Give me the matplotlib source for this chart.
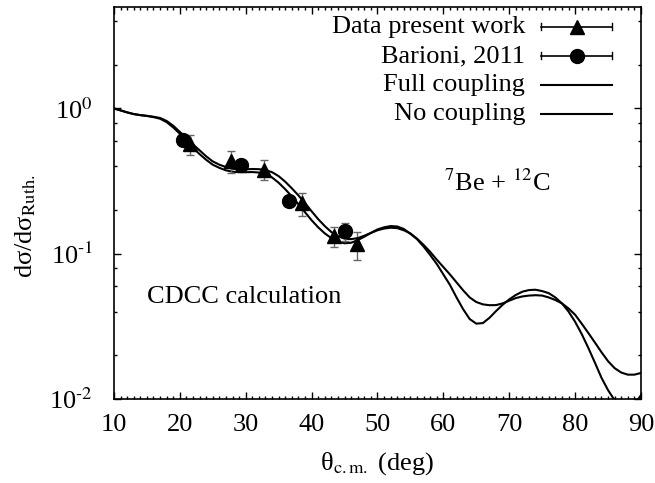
import numpy as np
import matplotlib
matplotlib.use("Agg")
import matplotlib.pyplot as plt
from matplotlib.ticker import FixedLocator, FixedFormatter, MultipleLocator

plt.rcParams['font.family'] = ['Liberation Serif', 'DejaVu Serif']
plt.rcParams['mathtext.fontset'] = 'stix'
plt.rcParams['font.size'] = 19

# CDCC curves, 1 deg steps from 10 to 90
theta = np.arange(10, 91)
full_coupling = [1.00, 0.97, 0.94, 0.915, 0.90, 0.888, 0.872, 0.85, 0.805, 0.74,
                 0.67, 0.60, 0.535, 0.485, 0.443, 0.41, 0.39, 0.375, 0.367, 0.364,
                 0.364, 0.365, 0.362, 0.353, 0.335, 0.308, 0.278, 0.248, 0.219, 0.193,
                 0.17, 0.152, 0.138, 0.128, 0.121, 0.118, 0.119, 0.124, 0.131, 0.139,
                 0.147, 0.152, 0.155, 0.154, 0.148, 0.137, 0.126, 0.112, 0.098, 0.085,
                 0.072, 0.061, 0.050, 0.0415, 0.0355, 0.033, 0.0333, 0.0362, 0.0403, 0.0445,
                 0.0485, 0.052, 0.0548, 0.0562, 0.0565, 0.0553, 0.0535, 0.050, 0.0455, 0.040,
                 0.034, 0.028, 0.0225, 0.0178, 0.014, 0.0115, 0.0098, 0.0088, 0.0085, 0.0092,
                 0.0106]
no_coupling = [1.00, 0.97, 0.94, 0.915, 0.90, 0.89, 0.877, 0.86, 0.82, 0.76,
               0.69, 0.625, 0.565, 0.515, 0.468, 0.432, 0.41, 0.395, 0.385, 0.381,
               0.381, 0.383, 0.382, 0.377, 0.364, 0.342, 0.313, 0.282, 0.252, 0.223,
               0.196, 0.173, 0.155, 0.141, 0.132, 0.127, 0.126, 0.128, 0.133, 0.139,
               0.145, 0.149, 0.151, 0.150, 0.145, 0.138, 0.127, 0.115, 0.103, 0.091,
               0.081, 0.072, 0.0635, 0.056, 0.050, 0.0465, 0.0448, 0.0442, 0.0443, 0.0455,
               0.0475, 0.0495, 0.0508, 0.0515, 0.0518, 0.0515, 0.050, 0.048, 0.0455, 0.042,
               0.038, 0.033, 0.0285, 0.0245, 0.021, 0.0182, 0.0163, 0.0152, 0.0147, 0.0147,
               0.0151]

# measured angular distributions
present_theta = [21.5, 27.8, 32.8, 38.6, 43.4, 46.9]
present_xs = [0.57, 0.435, 0.38, 0.223, 0.132, 0.116]
present_err = [0.09, 0.075, 0.06, 0.04, 0.02, 0.025]

barioni_theta = [20.5, 29.3, 36.5, 45.1]
barioni_xs = [0.61, 0.41, 0.23, 0.143]
barioni_err = [0.05, 0.02, 0.01, 0.02]

fig = plt.figure(figsize=(6.55, 4.83), dpi=100)
ax = fig.add_axes([0.174, 0.174, 0.8046, 0.8116])

ax.plot(theta, full_coupling, color='black', lw=1.5)
ax.plot(theta, no_coupling, color='black', lw=1.5)

ax.errorbar(present_theta, present_xs, yerr=present_err, fmt='^', color='black',
            ms=10, ecolor='#666666', elinewidth=1.0, capsize=3, capthick=1.0, zorder=3)
ax.errorbar(barioni_theta, barioni_xs, yerr=barioni_err, fmt='o', color='black',
            ms=10, ecolor='#666666', elinewidth=1.0, capsize=3, capthick=1.0, zorder=3)

ax.set_yscale('log')
ax.set_xlim(10, 90)
ax.set_ylim(0.01, 5)

ax.xaxis.set_major_locator(MultipleLocator(10))
ax.xaxis.set_minor_locator(MultipleLocator(1))
ax.yaxis.set_major_locator(FixedLocator([0.01, 0.1, 1]))
ax.yaxis.set_major_formatter(FixedFormatter(['10$^{\\text{-}2}$', '10$^{\\text{-}1}$', '10$^{0}$']))
minor = [m * 10.0 ** e for e in (-2, -1, 0) for m in (2, 4, 6, 8)]
ax.yaxis.set_minor_locator(FixedLocator(minor))
ax.yaxis.set_minor_formatter(FixedFormatter([''] * len(minor)))

ax.tick_params(which='both', direction='in', top=True, right=True, width=1.0)
ax.tick_params(which='major', length=5)
ax.tick_params(which='minor', length=2.5)
ax.tick_params(axis='x', which='major', pad=11)
ax.tick_params(axis='y', which='major', pad=15)
for sp in ax.spines.values():
    sp.set_linewidth(1.2)

ax.set_xlabel('θ$_{\\mathrm{c{.}m{.}}}$ (deg)', labelpad=10)
ax.set_ylabel('dσ/dσ$_{\\mathrm{Ruth{.}}}$')
ax.yaxis.set_label_coords(-0.145, 0.44)

ax.text(0.626, 0.551, r'$^{7}$Be + $^{12}$C', transform=ax.transAxes, ha='left', va='center')
ax.text(0.063, 0.260, 'CDCC calculation', transform=ax.transAxes, ha='left', va='center')

# key: label on the left, sample on the right
rows = [0.949, 0.875, 0.801, 0.727]
labels = ['Data present work', 'Barioni, 2011', 'Full coupling', 'No coupling']
x0, x1, xm = 0.810, 0.945, 0.879
for i, (yy, lab) in enumerate(zip(rows, labels)):
    ax.text(0.780, yy, lab, transform=ax.transAxes, ha='right', va='center')
    ax.plot([x0, x1], [yy, yy], transform=ax.transAxes, color='black', lw=1.2 if i < 2 else 1.5,
            clip_on=False)
    if i < 2:
        for xc in (x0, x1):
            ax.plot([xc, xc], [yy - 0.009, yy + 0.009], transform=ax.transAxes,
                    color='black', lw=1.0)
        ax.plot([xm], [yy], transform=ax.transAxes, marker='^' if i == 0 else 'o',
                color='black', ms=10)

fig.savefig('out.png', dpi=100)
